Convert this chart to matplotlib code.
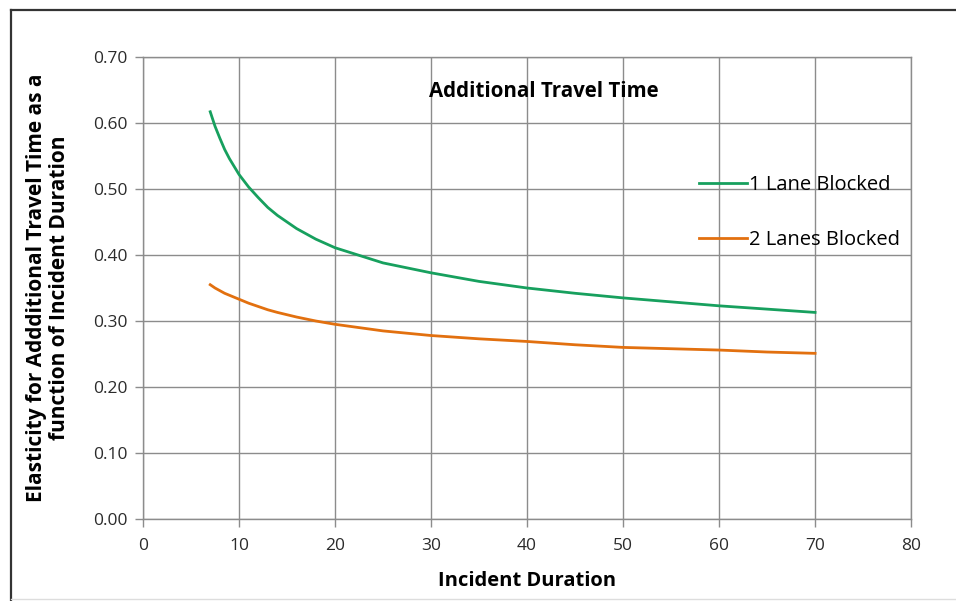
import matplotlib
matplotlib.use("Agg")
import matplotlib.pyplot as plt
from matplotlib.lines import Line2D

# values
duration = [7, 7.5, 8, 8.5, 9, 10, 11, 12, 13, 14, 16, 18, 20, 25, 30, 35, 40, 45, 50,
            55, 60, 65, 70]
one_lane = [0.617, 0.595, 0.577, 0.560, 0.546, 0.522, 0.503, 0.487, 0.472, 0.460,
            0.440, 0.424, 0.411, 0.388, 0.373, 0.360, 0.350, 0.342, 0.335, 0.329,
            0.323, 0.318, 0.313]
two_lanes = [0.355, 0.350, 0.346, 0.342, 0.339, 0.333, 0.327, 0.322, 0.317, 0.313,
             0.306, 0.300, 0.295, 0.285, 0.278, 0.273, 0.269, 0.264, 0.260, 0.258,
             0.256, 0.253, 0.251]
x_ticks = [0, 10, 20, 30, 40, 50, 60, 70, 80]
y_ticks = [0.0, 0.1, 0.2, 0.3, 0.4, 0.5, 0.6, 0.7]

plt.rcParams['font.family'] = ['Open Sans', 'DejaVu Sans']

fig = plt.figure(figsize=(9.56, 6.01), dpi=100)
ax = fig.add_axes([0.1496, 0.1364, 0.8034, 0.7688])

ax.plot(duration, one_lane, color='#17a05e', linewidth=2.0, label='1 Lane Blocked')
ax.plot(duration, two_lanes, color='#e2700f', linewidth=2.0, label='2 Lanes Blocked')

ax.set_xlim(0, 80)
ax.set_ylim(0, 0.70)
ax.set_xticks(x_ticks)
ax.set_yticks(y_ticks)
ax.set_yticklabels([f'{v:.2f}' for v in y_ticks])
ax.grid(True, color='#8c8c8c', linewidth=1.0)
ax.set_axisbelow(True)
for s in ax.spines.values():
    s.set_color('#8c8c8c')
    s.set_linewidth(1.0)
ax.tick_params(axis='both', colors='#8c8c8c', labelcolor='#2b2b2b',
               labelsize=12.5, length=6, width=1.0, direction='out')
ax.tick_params(axis='x', pad=8)
ax.tick_params(axis='y', pad=5)

ax.set_xlabel('Incident Duration', fontsize=14.5, fontweight='bold', labelpad=12)
ax.set_ylabel('Elasticity for Addditional Travel Time as a\nfunction of Incident Duration',
              fontsize=15, fontweight='bold', labelpad=17, linespacing=1.12)

ax.text(0.522, 0.925, 'Additional Travel Time', transform=ax.transAxes,
        fontsize=14.8, fontweight='bold', ha='center', va='center')

ax.legend(loc='upper left', bbox_to_anchor=(0.713, 0.762), frameon=False,
          fontsize=14.5, handlelength=2.4, handletextpad=0.1, labelspacing=1.75,
          borderaxespad=0)

# outer frame of the original picture
fig.add_artist(Line2D([0.011, 1.0], [0.984, 0.984], color='#333333', linewidth=1.6,
                      transform=fig.transFigure))
fig.add_artist(Line2D([0.011, 0.011], [0.0, 0.984], color='#333333', linewidth=1.6,
                      transform=fig.transFigure))
fig.add_artist(Line2D([0.011, 1.0], [0.003, 0.003], color='#dddddd', linewidth=1.0,
                      transform=fig.transFigure))

fig.savefig('out.png', dpi=100)
